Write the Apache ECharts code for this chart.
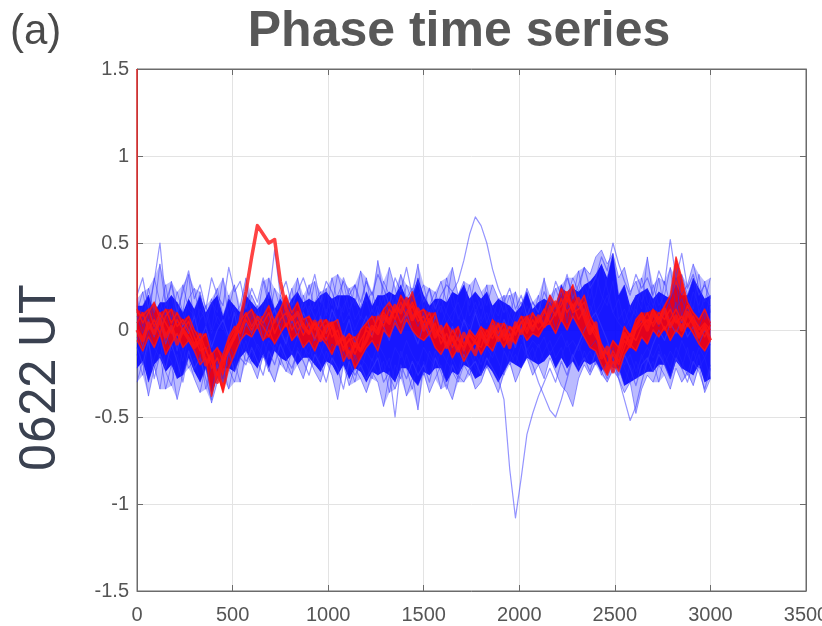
<!DOCTYPE html>
<html>
<head>
<meta charset="utf-8">
<script src="https://cdn.jsdelivr.net/npm/echarts@6/dist/echarts.min.js"></script>
<style>
  html, body { margin: 0; padding: 0; background: #fff; }
  #chart { width: 822px; height: 626px; }
</style>
</head>
<body>
<div id="chart"></div>
<script>
// Phase time series: every 30th sample, 0 .. 3000
const sampleStep = 30;

const xTicks = [0, 500, 1000, 1500, 2000, 2500, 3000, 3500];
const yTicks = [-1.5, -1, -0.5, 0, 0.5, 1, 1.5];

// Blue traces
const blue1 = [0.18,0.06,0.24,0.1,0.38,0.14,0.2,0.04,0.26,0.12,
  0.08,0.22,0.02,0.16,0.1,0.3,0.06,0.14,0.0,0.2,
  0.1,0.02,0.16,0.06,0.24,0.12,0.04,0.18,0.22,0.1,
  0.26,0.12,0.2,0.08,0.3,0.16,0.1,0.24,0.14,0.34,
  0.16,0.22,0.1,0.28,0.2,0.14,0.32,0.18,0.24,0.12,
  0.2,0.08,0.16,0.02,0.12,0.22,0.06,0.14,0.26,0.1,
  0.18,0.04,0.14,0.08,0.2,0.0,0.1,0.16,0.04,0.12,
  0.06,0.18,0.1,0.24,0.14,0.3,0.2,0.12,0.26,0.18,
  0.32,0.2,0.14,0.28,0.06,0.12,0.02,0.16,0.22,0.1,
  0.26,0.14,0.2,0.36,0.12,0.18,0.08,0.22,0.14,0.28,
  0.1];
const blue2 = [0.1,0.22,0.04,0.3,0.16,0.08,0.28,0.12,0.02,0.18,
  0.24,0.06,0.14,0.0,0.2,0.04,0.12,0.26,0.08,0.02,
  0.16,0.08,0.28,0.14,0.04,0.2,0.1,0.24,0.06,0.16,
  0.1,0.28,0.06,0.22,0.14,0.32,0.2,0.08,0.26,0.12,
  0.3,0.1,0.2,0.12,0.36,0.24,0.1,0.26,0.16,0.3,
  0.12,0.24,0.06,0.18,0.1,0.04,0.2,0.28,0.08,0.16,
  0.06,0.22,0.1,0.0,0.16,0.08,0.22,0.02,0.14,0.06,
  0.2,0.02,0.16,0.08,0.26,0.12,0.18,0.34,0.16,0.1,
  0.2,0.38,0.24,0.1,0.18,0.04,0.14,0.08,0.3,0.16,
  0.12,0.3,0.1,0.18,0.26,0.08,0.2,0.12,0.32,0.06,
  0.2];
const blue3 = [0.04,0.14,0.2,0.0,0.1,0.26,0.06,0.16,0.1,0.32,
  0.02,0.12,0.06,0.18,0.04,0.0,0.2,0.08,0.14,0.3,
  0.06,0.14,0.0,0.22,0.12,0.04,0.16,0.08,0.3,0.12,
  0.18,0.06,0.14,0.24,0.04,0.2,0.28,0.12,0.18,0.06,
  0.22,0.14,0.4,0.18,0.1,0.2,0.14,0.06,0.2,0.38,
  0.06,0.14,0.22,0.1,0.3,0.14,0.08,0.02,0.18,0.22,
  0.12,0.26,0.06,0.18,0.1,0.14,0.04,0.1,0.24,0.16,
  0.1,0.3,0.06,0.14,0.2,0.04,0.24,0.14,0.08,0.28,
  0.1,0.16,0.3,0.44,0.2,0.26,0.1,0.2,0.12,0.42,
  0.18,0.08,0.28,0.14,0.06,0.32,0.2,0.3,0.1,0.18,
  0.14];
const blue4 = [0.08,-0.02,0.12,0.04,-0.04,0.1,0.0,0.14,0.02,0.08,
  -0.04,0.06,0.1,-0.02,0.08,0.02,-0.06,0.12,0.04,0.16,
  0.02,0.1,0.06,-0.02,0.08,0.0,0.12,0.04,0.1,-0.02,
  0.14,0.08,0.0,0.12,0.06,0.18,0.04,0.1,0.0,0.08,
  0.04,0.12,0.06,0.2,0.08,0.16,0.04,0.12,0.1,0.02,
  0.1,0.0,0.08,0.14,0.04,0.1,0.16,0.06,0.02,0.12,
  0.04,0.1,0.0,0.06,-0.04,0.08,0.02,0.12,0.06,0.0,
  0.08,0.04,0.12,0.0,0.1,0.16,0.06,0.2,0.1,0.14,
  0.06,0.12,0.2,0.1,0.04,0.0,0.06,0.12,0.04,0.14,
  0.08,0.02,0.1,0.06,0.16,0.04,0.12,0.08,0.02,0.1,
  0.04];
const blue5 = [-0.14,-0.26,-0.08,-0.2,-0.34,-0.12,-0.18,-0.28,-0.1,-0.22,
  -0.16,-0.3,-0.22,-0.36,-0.18,-0.28,-0.14,-0.24,-0.08,-0.18,
  -0.12,-0.22,-0.06,-0.16,-0.1,-0.2,-0.04,-0.14,-0.2,-0.08,
  -0.18,-0.1,-0.24,-0.12,-0.2,-0.06,-0.16,-0.28,-0.14,-0.22,
  -0.3,-0.16,-0.26,-0.18,-0.36,-0.2,-0.28,-0.14,-0.24,-0.46,
  -0.18,-0.26,-0.12,-0.22,-0.3,-0.16,-0.24,-0.1,-0.2,-0.28,
  -0.14,-0.22,-0.1,-0.18,-0.26,-0.12,-0.2,-0.08,-0.16,-0.1,
  -0.2,-0.12,-0.06,-0.16,-0.1,-0.22,-0.14,-0.08,-0.18,-0.12,
  -0.2,-0.1,-0.16,-0.24,-0.14,-0.22,-0.3,-0.18,-0.26,-0.16,
  -0.24,-0.12,-0.2,-0.28,-0.16,-0.22,-0.1,-0.26,-0.14,-0.3,
  -0.2];
const blue6 = [-0.22,-0.1,-0.3,-0.16,-0.06,-0.24,-0.32,-0.14,-0.26,-0.12,
  -0.24,-0.14,-0.34,-0.2,-0.28,-0.12,-0.22,-0.3,-0.16,-0.06,
  -0.18,-0.08,-0.14,-0.24,-0.06,-0.12,-0.18,-0.26,-0.1,-0.16,
  -0.08,-0.2,-0.14,-0.04,-0.18,-0.26,-0.12,-0.2,-0.3,-0.16,
  -0.2,-0.28,-0.12,-0.24,-0.16,-0.3,-0.12,-0.22,-0.34,-0.18,
  -0.26,-0.12,-0.2,-0.34,-0.18,-0.24,-0.3,-0.2,-0.12,-0.22,
  -0.26,-0.16,-0.24,-0.3,-0.12,-0.2,-0.14,-0.22,-0.1,-0.18,
  -0.08,-0.18,-0.12,-0.22,-0.16,-0.06,-0.18,-0.24,-0.12,-0.2,
  -0.14,-0.26,-0.18,-0.1,-0.22,-0.32,-0.2,-0.28,-0.14,-0.24,
  -0.18,-0.3,-0.14,-0.22,-0.1,-0.18,-0.26,-0.12,-0.22,-0.16,
  -0.28];
const blue7 = [-0.04,-0.14,0.0,-0.1,-0.16,-0.02,-0.12,-0.06,-0.18,-0.04,
  -0.1,-0.2,-0.12,-0.06,-0.22,-0.14,-0.08,-0.16,-0.04,-0.12,
  -0.02,-0.1,-0.16,-0.06,-0.12,-0.02,-0.08,-0.14,-0.04,-0.1,
  -0.14,-0.04,-0.1,-0.18,-0.08,-0.12,-0.2,-0.1,-0.16,-0.24,
  -0.12,-0.18,-0.08,-0.14,-0.22,-0.1,-0.16,-0.06,-0.14,-0.2,
  -0.1,-0.16,-0.22,-0.12,-0.18,-0.08,-0.14,-0.2,-0.26,-0.14,
  -0.2,-0.1,-0.16,-0.06,-0.12,-0.18,-0.08,-0.04,-0.12,-0.06,
  -0.1,-0.04,-0.14,-0.08,-0.02,-0.1,-0.06,-0.12,-0.04,-0.1,
  -0.06,-0.14,-0.08,-0.18,-0.12,-0.2,-0.14,-0.24,-0.16,-0.1,
  -0.16,-0.08,-0.2,-0.12,-0.18,-0.06,-0.14,-0.2,-0.1,-0.16,
  -0.08];
const blue8 = [-0.3,-0.18,-0.38,-0.22,-0.14,-0.34,-0.2,-0.4,-0.26,-0.16,
  -0.28,-0.36,-0.2,-0.42,-0.3,-0.22,-0.34,-0.18,-0.3,-0.12,
  -0.2,-0.28,-0.14,-0.22,-0.3,-0.16,-0.24,-0.12,-0.2,-0.28,
  -0.16,-0.24,-0.3,-0.18,-0.26,-0.4,-0.2,-0.32,-0.22,-0.28,
  -0.36,-0.24,-0.3,-0.44,-0.26,-0.34,-0.22,-0.38,-0.28,-0.32,
  -0.24,-0.36,-0.28,-0.2,-0.32,-0.4,-0.26,-0.3,-0.22,-0.34,
  -0.3,-0.2,-0.28,-0.36,-0.24,-0.18,-0.3,-0.22,-0.16,-0.26,
  -0.2,-0.28,-0.16,-0.24,-0.32,-0.36,-0.44,-0.28,-0.2,-0.26,
  -0.18,-0.24,-0.3,-0.22,-0.28,-0.36,-0.3,-0.48,-0.34,-0.26,
  -0.3,-0.2,-0.26,-0.34,-0.22,-0.3,-0.24,-0.32,-0.2,-0.36,
  -0.28];
// trace with the excursion near sample 1780
const blue9 = [0.2,0.3,0.12,0.28,0.5,0.16,0.26,0.1,0.22,0.34,
  0.18,0.26,0.12,0.3,0.2,0.14,0.36,0.22,0.28,0.12,
  0.24,0.16,0.3,0.18,0.46,0.2,0.28,0.14,0.22,0.3,
  0.2,0.32,0.16,0.28,0.22,0.12,0.3,0.2,0.26,0.16,
  0.28,0.2,0.32,0.24,0.14,0.3,0.22,0.36,0.2,0.28,
  0.16,0.24,0.12,0.2,0.26,0.22,0.28,0.4,0.55,0.65,
  0.6,0.5,0.35,0.24,0.16,0.24,0.12,0.2,0.08,0.16,
  0.1,0.22,0.14,0.28,0.2,0.32,0.18,0.26,0.36,0.24,
  0.3,0.42,0.34,0.5,0.38,0.28,0.2,0.32,0.24,0.3,
  0.2,0.34,0.26,0.52,0.3,0.44,0.24,0.32,0.2,0.26,
  0.18];
// trace with the deep drop near sample 1970
const blue10 = [-0.1,-0.2,-0.06,-0.28,-0.14,-0.22,-0.08,-0.18,-0.3,-0.12,
  -0.22,-0.16,-0.28,-0.4,-0.2,-0.3,-0.12,-0.24,-0.16,-0.2,
  -0.1,-0.18,-0.26,-0.12,-0.2,-0.08,-0.16,-0.22,-0.12,-0.18,
  -0.26,-0.14,-0.2,-0.3,-0.16,-0.22,-0.34,-0.18,-0.26,-0.2,
  -0.28,-0.22,-0.16,-0.3,-0.24,-0.5,-0.2,-0.28,-0.18,-0.26,
  -0.2,-0.3,-0.16,-0.24,-0.34,-0.2,-0.28,-0.14,-0.22,-0.18,
  -0.26,-0.16,-0.22,-0.28,-0.4,-0.8,-1.08,-0.85,-0.6,-0.48,
  -0.38,-0.3,-0.22,-0.3,-0.18,-0.26,-0.14,-0.22,-0.16,-0.24,
  -0.12,-0.2,-0.28,-0.18,-0.26,-0.14,-0.22,-0.32,-0.2,-0.16,
  -0.24,-0.14,-0.2,-0.28,-0.16,-0.22,-0.3,-0.18,-0.24,-0.34,
  -0.22];
const blue11 = [0.0,-0.1,0.06,-0.04,0.1,-0.08,0.02,-0.12,0.04,-0.02,
  0.08,-0.06,0.02,-0.1,0.0,0.06,-0.04,0.1,-0.08,0.04,
  -0.02,0.08,-0.06,0.04,0.12,0.0,-0.08,0.06,-0.04,0.1,
  0.02,-0.06,0.08,-0.02,0.12,0.04,-0.04,0.06,-0.08,0.0,
  0.08,-0.04,0.1,0.02,-0.06,0.06,-0.02,0.1,0.0,-0.08,
  0.04,-0.04,0.08,0.0,-0.1,0.02,-0.06,0.06,-0.02,0.1,
  0.0,-0.08,0.04,-0.04,0.06,-0.02,-0.1,0.02,-0.14,-0.2,
  -0.3,-0.38,-0.46,-0.5,-0.4,-0.28,-0.16,-0.08,0.0,0.06,
  0.1,0.02,-0.06,-0.16,-0.28,-0.4,-0.52,-0.44,-0.3,-0.18,
  -0.08,0.0,-0.06,0.04,-0.02,0.06,-0.04,0.02,-0.08,0.0,
  -0.04];
const blue12 = [0.14,0.02,0.2,0.08,0.0,0.16,0.06,0.22,0.1,0.0,
  0.12,0.2,0.04,0.14,0.24,0.08,0.18,0.0,0.1,0.06,
  0.2,0.12,0.04,0.3,0.1,0.18,0.06,0.14,0.0,0.2,
  0.08,0.16,0.22,0.1,0.18,0.04,0.14,0.2,0.06,0.12,
  0.18,0.06,0.14,0.04,0.22,0.12,0.26,0.08,0.16,0.2,
  0.26,0.1,0.18,0.28,0.16,0.36,0.2,0.26,0.14,0.3,
  0.22,0.14,0.26,0.18,0.1,0.2,0.06,0.14,0.22,0.1,
  0.16,0.08,0.2,0.12,0.26,0.18,0.3,0.22,0.36,0.32,
  0.42,0.46,0.38,0.44,0.3,0.36,0.22,0.28,0.16,0.24,
  0.14,0.22,0.1,0.18,0.3,0.2,0.26,0.38,0.24,0.16,
  0.3];

// Red traces
const red1Onset = [1.5, 0.1];   // raw samples 0 and 1
const red1 = [1.5,0.08,0.12,0.02,0.1,0.04,-0.02,0.06,0.0,0.05,
  -0.04,-0.12,-0.1,-0.22,-0.16,-0.25,-0.06,0.0,0.05,0.1,
  0.02,0.08,0.04,0.1,-0.02,0.06,0.1,0.0,0.05,-0.03,
  0.04,-0.05,0.02,0.06,-0.04,0.0,-0.12,-0.05,-0.14,-0.06,
  0.0,-0.04,0.08,0.02,0.12,0.06,0.16,0.08,0.14,0.05,
  0.08,-0.02,0.04,-0.08,-0.02,-0.1,-0.04,-0.12,-0.03,-0.08,
  -0.1,0.0,-0.05,0.03,-0.06,0.02,-0.03,0.05,-0.02,0.06,
  0.0,0.04,0.14,0.08,0.18,0.1,0.15,0.06,0.12,0.02,
  -0.04,-0.1,-0.2,-0.12,-0.18,-0.06,-0.1,0.0,0.04,0.1,
  0.02,0.08,0.0,0.06,0.12,0.05,0.14,0.06,0.02,-0.04,
  0.03];
// trace with the bump near sample 640
const red2 = [0.0,-0.06,0.04,-0.02,0.06,-0.04,0.02,-0.08,0.0,-0.05,
  -0.1,-0.06,-0.2,-0.14,-0.3,-0.18,-0.1,-0.04,0.05,0.22,
  0.42,0.6,0.55,0.5,0.52,0.28,0.12,0.06,0.1,0.02,
  -0.02,0.05,-0.06,0.02,0.04,-0.08,-0.04,-0.16,-0.08,-0.12,
  -0.06,0.02,-0.02,0.08,0.04,0.14,0.1,0.18,0.06,0.12,
  0.0,0.06,-0.04,0.02,-0.1,-0.04,-0.12,-0.02,-0.08,-0.14,
  -0.02,-0.08,0.02,-0.06,0.0,-0.1,0.04,-0.02,0.06,0.0,
  0.08,0.02,0.1,0.16,0.06,0.2,0.12,0.18,0.08,-0.02,
  0.04,-0.16,-0.1,-0.24,-0.12,-0.02,-0.08,0.02,0.08,0.0,
  0.1,0.04,0.12,0.02,0.08,0.0,0.1,0.04,-0.04,0.02,
  -0.06];
// trace with the spike near sample 2820
const red3 = [0.12,0.04,0.1,0.16,0.06,0.12,0.04,0.1,0.03,0.08,
  0.0,-0.06,-0.02,-0.14,-0.1,-0.18,-0.12,-0.04,0.0,0.08,
  0.12,0.02,0.08,0.14,0.04,0.12,0.2,0.1,0.16,0.06,
  0.08,0.0,0.06,-0.02,0.04,0.06,-0.06,-0.02,-0.1,0.0,
  0.04,0.08,0.0,0.12,0.16,0.1,0.2,0.14,0.22,0.1,
  0.12,0.04,0.1,-0.02,0.04,-0.06,0.02,-0.08,0.0,-0.04,
  0.02,-0.04,0.06,-0.02,0.04,-0.06,0.02,0.08,0.0,0.1,
  0.04,0.1,0.2,0.14,0.24,0.16,0.26,0.14,0.2,0.08,
  0.02,-0.08,-0.14,-0.06,-0.1,0.02,-0.04,0.06,0.1,0.04,
  0.12,0.06,0.14,0.2,0.42,0.3,0.16,0.1,0.06,0.12,
  0.04];
const red4 = [-0.06,-0.12,-0.04,-0.1,-0.02,-0.14,-0.08,-0.02,-0.1,-0.06,
  -0.12,-0.2,-0.16,-0.38,-0.24,-0.36,-0.22,-0.14,-0.06,-0.02,
  -0.04,0.02,-0.06,0.0,-0.08,-0.02,0.04,-0.06,-0.02,-0.1,
  -0.06,-0.12,-0.04,-0.08,-0.14,-0.06,-0.18,-0.12,-0.22,-0.16,
  -0.1,-0.06,-0.12,0.0,-0.04,0.04,-0.02,0.06,0.0,-0.04,
  -0.06,-0.02,-0.1,-0.14,-0.08,-0.16,-0.1,-0.18,-0.12,-0.06,
  -0.14,-0.08,-0.12,-0.04,-0.1,-0.02,-0.08,0.0,-0.06,-0.02,
  -0.04,0.02,0.04,-0.02,0.06,0.0,0.08,0.02,-0.04,-0.1,
  -0.12,-0.2,-0.26,-0.18,-0.24,-0.14,-0.08,-0.12,-0.04,-0.08,
  0.0,-0.04,0.02,-0.06,0.0,-0.04,0.04,-0.02,-0.08,-0.12,
  -0.06];
const red5 = [0.04,0.1,0.0,0.06,-0.02,0.08,0.12,0.02,0.06,0.0,
  -0.08,-0.02,-0.12,-0.18,-0.26,-0.14,-0.04,0.02,-0.02,0.06,
  0.0,0.06,0.02,-0.04,0.06,0.12,0.02,0.08,0.0,0.04,
  -0.02,0.04,0.0,-0.06,0.02,-0.04,-0.1,-0.06,-0.04,-0.12,
  0.02,0.0,0.06,0.1,0.06,0.12,0.04,0.1,0.16,0.08,
  0.04,0.1,0.0,-0.04,-0.08,0.0,-0.06,-0.1,-0.02,-0.06,
  0.0,-0.06,-0.02,0.04,-0.04,0.02,-0.02,0.04,0.08,0.02,
  0.06,0.12,0.04,0.1,0.14,0.22,0.1,0.12,0.16,0.04,
  -0.02,-0.12,-0.2,-0.14,-0.2,-0.1,-0.02,-0.06,0.02,0.06,
  0.04,0.1,0.06,0.12,0.04,0.08,0.02,0.08,0.0,0.04,
  0.0];

// the many overlapping traces of each group merge into a solid band
const blueCore = [blue1, blue2, blue3, blue4, blue5, blue6, blue7, blue8, blue12];
const blueOuter = [blue9, blue10, blue11];
const redTraces = [red1, red2, red3, red4, red5];
const redBandTraces = [red1, red3, red4, red5];   // red2's bump stays a single stroke

const pointCount = blue1.length;

function toPairs(values) {
  return values.map((v, i) => [i * sampleStep, v]);
}

// k-th largest / smallest value across a group at every sample
function rankEdge(group, k, fromTop, skipOnset) {
  const out = [];
  for (let i = 0; i < pointCount; i++) {
    let vals = group.map(t => t[i]);
    if (skipOnset && i === 0) vals = vals.slice(1);
    vals.sort((a, b) => fromTop ? b - a : a - b);
    out.push(vals[Math.min(k, vals.length - 1)]);
  }
  return out;
}

const labelFont = '"Liberation Sans", Arial, sans-serif';
const tickStyle = { color: '#555', fontSize: 20, fontFamily: labelFont };

function traceSeries(data, color, width) {
  return {
    type: 'line',
    data: data,
    showSymbol: false,
    silent: true,
    animation: false,
    lineStyle: { color: color, width: width, join: 'round' },
    emphasis: { disabled: true }
  };
}

// filled band between a lower and an upper edge, drawn as one polygon
function bandSeries(lower, upper, fill) {
  return {
    type: 'custom',
    silent: true,
    animation: false,
    data: [[0]],
    renderItem: function (params, api) {
      const pts = [];
      for (let i = 0; i < upper.length; i++) pts.push(api.coord([i * sampleStep, upper[i]]));
      for (let i = lower.length - 1; i >= 0; i--) pts.push(api.coord([i * sampleStep, lower[i]]));
      return { type: 'polygon', shape: { points: pts }, style: { fill: fill } };
    }
  };
}

const series = [];
// faint halo: full spread of the core traces
series.push(bandSeries(rankEdge(blueCore, 0, false), rankEdge(blueCore, 0, true), 'rgba(60,60,255,0.35)'));
// dense blue band
series.push(bandSeries(rankEdge(blueCore, 1, false), rankEdge(blueCore, 1, true), 'rgba(0,0,255,0.88)'));
blueCore.forEach(t => series.push(traceSeries(toPairs(t), 'rgba(40,40,255,0.45)', 1)));
blueOuter.forEach(t => series.push(traceSeries(toPairs(t), 'rgba(60,60,255,0.55)', 1.2)));
// dense red band
series.push(bandSeries(rankEdge(redBandTraces, 0, false, true), rankEdge(redBandTraces, 0, true, true), 'rgba(255,0,0,0.88)'));
redTraces.forEach((t, k) => {
  let data = toPairs(t);
  if (k === 0) {
    data = red1Onset.map((v, i) => [i, v]).concat(data.slice(1));
  }
  series.push(traceSeries(data, 'rgba(255,20,20,0.8)', k === 1 ? 3.5 : 1.5));
});

const chart = echarts.init(document.getElementById('chart'), null, { renderer: 'canvas' });

const axisLineStyle = { color: '#6b6b6b', width: 1 };
const gridLine = { show: true, lineStyle: { color: '#e3e3e3', width: 1 } };
const plain = v => String(v);

chart.setOption({
  backgroundColor: '#ffffff',
  animation: false,
  grid: {
    left: 137, right: 16, top: 69, bottom: 35,
    outerBoundsMode: 'none', containLabel: false,
    show: true, borderColor: '#6b6b6b', borderWidth: 1, backgroundColor: 'transparent'
  },
  graphic: [
    {
      type: 'text', left: 10, top: 11,
      style: { text: '(a)', fontSize: 42, fill: '#4a4a4a', fontFamily: labelFont }
    },
    {
      type: 'text', x: 459, y: 32,
      style: { text: 'Phase time series', fontSize: 50, fontWeight: 'bold', fill: '#585858', fontFamily: labelFont, align: 'center', verticalAlign: 'middle' }
    },
    {
      type: 'text', x: 42, y: 378, rotation: Math.PI / 2,
      style: { text: '0622 UT', fontSize: 50, fill: '#3a4150', fontFamily: 'Roboto, sans-serif', align: 'center', verticalAlign: 'middle' }
    }
  ],
  xAxis: [
    {
      type: 'value', min: xTicks[0], max: xTicks[xTicks.length - 1], interval: 500,
      axisLine: { show: true, onZero: false, lineStyle: axisLineStyle },
      axisTick: { show: true, inside: true, length: 6, lineStyle: axisLineStyle },
      axisLabel: Object.assign({ margin: 14, formatter: plain }, tickStyle),
      splitLine: gridLine
    },
    {
      type: 'value', position: 'top', min: xTicks[0], max: xTicks[xTicks.length - 1], interval: 500,
      axisLine: { show: true, onZero: false, lineStyle: axisLineStyle },
      axisTick: { show: true, inside: true, length: 6, lineStyle: axisLineStyle },
      axisLabel: { show: false },
      splitLine: { show: false }
    }
  ],
  yAxis: [
    {
      type: 'value', min: yTicks[0], max: yTicks[yTicks.length - 1], interval: 0.5,
      axisLine: { show: true, onZero: false, lineStyle: axisLineStyle },
      axisTick: { show: true, inside: true, length: 6, lineStyle: axisLineStyle },
      axisLabel: Object.assign({ margin: 8, formatter: plain }, tickStyle),
      splitLine: gridLine
    },
    {
      type: 'value', position: 'right', min: yTicks[0], max: yTicks[yTicks.length - 1], interval: 0.5,
      axisLine: { show: true, onZero: false, lineStyle: axisLineStyle },
      axisTick: { show: true, inside: true, length: 6, lineStyle: axisLineStyle },
      axisLabel: { show: false },
      splitLine: { show: false }
    }
  ],
  series: series
});
</script>
</body>
</html>
